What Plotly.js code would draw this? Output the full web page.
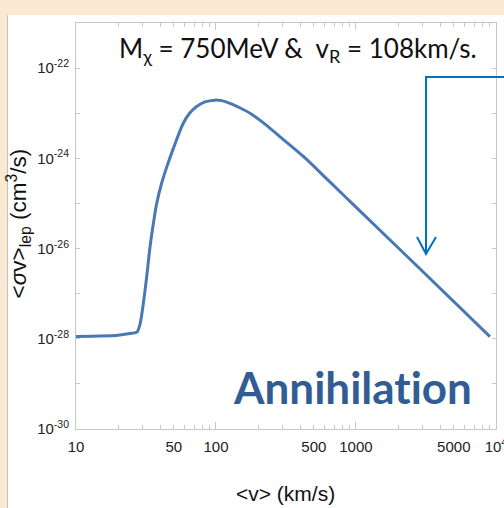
<!DOCTYPE html>
<html>
<head>
<meta charset="utf-8">
<script src="https://cdn.plot.ly/plotly-3.0.1.min.js"></script>
<style>html,body{margin:0;padding:0;background:#fff;}#chart{width:504px;height:508px;}</style>
</head>
<body>
<div id="chart"></div>
<script>
// velocity <v> in km/s
const velocity = [10, 15, 20, 25, 27.2, 28.6, 30.3, 32.0, 33.8, 35.7, 37.7, 40.9, 44.4, 49.6, 58.4, 65.2, 72.8, 83.4, 98, 110, 126, 148, 175, 224, 287, 421, 651, 1000, 3000, 9060];
// <sigma v>_lep in cm^3/s
const sigmaV = [1.12e-28, 1.15e-28, 1.20e-28, 1.32e-28, 1.40e-28, 2.04e-28, 6.2e-28, 2.4e-27, 1.1e-26, 3.6e-26, 1.0e-25, 2.8e-25, 6.3e-25, 1.66e-24, 6.0e-24, 1.02e-23, 1.41e-23, 1.78e-23, 1.95e-23, 1.9e-23, 1.66e-23, 1.32e-23, 1.0e-23, 5.75e-24, 3.0e-24, 1.1e-24, 3.0e-25, 8.3e-26, 3.1e-27, 1.12e-28];

const xTickVals = [10, 50, 100, 500, 1000, 5000, 10000];
const xTickText = ['10', '50', '100', '500', '1000', '5000', '10<sup>4</sup>'];
const xMinorVals = [20, 30, 40, 60, 70, 80, 90, 200, 300, 400, 600, 700, 800, 900, 2000, 3000, 4000, 6000, 7000, 8000, 9000];
const xDecadeVals = [10, 100, 1000, 10000];
const yTickVals = [1e-30, 1e-28, 1e-26, 1e-24, 1e-22];
const yTickText = ['10<sup>-30</sup>', '10<sup>-28</sup>', '10<sup>-26</sup>', '10<sup>-24</sup>', '10<sup>-22</sup>'];
const yMinorVals = [1e-29, 1e-27, 1e-25, 1e-23, 1e-21];

const tickFont = {family: '"Liberation Sans Narrow", "Liberation Sans", Arial, sans-serif', size: 15, color: '#222'};
const axisColor = '#c8c8c8';

const traces = [{
  x: velocity, y: sigmaV, type: 'scatter', mode: 'lines',
  line: {color: '#4a78b5', width: 3, shape: 'spline', smoothing: 0.8},
  hoverinfo: 'skip', showlegend: false
}, {
  x: [], y: [], xaxis: 'x2', type: 'scatter', showlegend: false
}];

const layout = {
  width: 504, height: 508,
  margin: {l: 76, r: 8, t: 23, b: 79},
  paper_bgcolor: '#ffffff', plot_bgcolor: '#ffffff',
  showlegend: false,
  xaxis: {
    type: 'log', range: [1, 4.0004], showgrid: false, zeroline: false,
    showline: true, linecolor: axisColor, linewidth: 1, mirror: 'ticks',
    ticks: 'inside', ticklen: 4, tickcolor: axisColor, tickwidth: 1,
    tickmode: 'array', tickvals: xTickVals, ticktext: xTickText,
    tickfont: tickFont, ticklabelstandoff: 4, ticklabeloverflow: 'allow',
    minor: {tickmode: 'array', tickvals: xMinorVals, ticks: 'inside', ticklen: 4, tickcolor: axisColor, showgrid: false}
  },
  xaxis2: {
    type: 'log', range: [1, 4.0004], overlaying: 'x', side: 'bottom', anchor: 'y',
    showgrid: false, zeroline: false, showline: false, mirror: 'ticks',
    ticks: 'inside', ticklen: 7, tickcolor: axisColor, tickwidth: 1,
    tickmode: 'array', tickvals: xDecadeVals, showticklabels: false
  },
  yaxis: {
    type: 'log', range: [-30, -21], showgrid: false, zeroline: false,
    showline: true, linecolor: axisColor, linewidth: 1, mirror: 'ticks',
    ticks: 'inside', ticklen: 4, tickcolor: axisColor, tickwidth: 1,
    tickmode: 'array', tickvals: yTickVals, ticktext: yTickText,
    tickfont: tickFont, ticklabelstandoff: 3,
    minor: {tickmode: 'array', tickvals: yMinorVals, ticks: 'inside', ticklen: 4, tickcolor: axisColor, showgrid: false}
  },
  shapes: [
    {type: 'rect', xref: 'paper', yref: 'paper', x0: -0.18095, x1: -0.16429, y0: -0.19458, y1: 1.05665, fillcolor: '#fbead3', line: {width: 0}, layer: 'below'},
    {type: 'rect', xref: 'paper', yref: 'paper', x0: -0.18095, x1: 1.01905, y0: 1.0197, y1: 1.05665, fillcolor: '#fbead3', line: {width: 0}, layer: 'below'},
    {type: 'line', xref: 'paper', yref: 'paper', x0: -0.16310, x1: -0.16310, y0: -0.19458, y1: 1.0197, line: {color: '#c9c2b8', width: 1}},
    {type: 'path', xref: 'paper', yref: 'paper', path: 'M1.01905,0.867 L0.83333,0.867 L0.83333,0.43103', line: {color: '#0070c0', width: 2}},
    {type: 'path', xref: 'paper', yref: 'paper', path: 'M0.8119,0.47291 L0.83333,0.43103 L0.85714,0.47291', line: {color: '#0070c0', width: 2}}
  ],
  annotations: [
    {xref: 'paper', yref: 'paper', x: 0.0976, y: 0.9335, xanchor: 'left', yanchor: 'middle', showarrow: false,
     text: 'M<sub>χ</sub> = 750MeV &\u00a0 v<sub>R</sub> = 108km/s.', font: {family: 'Lato, "Open Sans", sans-serif', size: 26, color: '#111'}},
    {xref: 'paper', yref: 'paper', x: 0.3690, y: 0.1034, xanchor: 'left', yanchor: 'middle', showarrow: false,
     text: '<b>Annihilat\u200Cion</b>', font: {family: 'Lato, "Open Sans", sans-serif', size: 44, color: '#325d94'}},
    {xref: 'paper', yref: 'paper', x: -0.1370, y: 0.5075, xanchor: 'center', yanchor: 'middle', showarrow: false, textangle: -90,
     text: '<<i>σ</i>v><sub>lep</sub> (cm<sup>3</sup>/s)', font: {family: '"Liberation Sans", Arial, sans-serif', size: 22.5, color: '#111'}},
    {xref: 'paper', yref: 'paper', x: 0.49762, y: -0.15764, xanchor: 'center', yanchor: 'middle', showarrow: false,
     text: '<v> (km/s)', font: {family: '"Liberation Sans Narrow", "Liberation Sans", Arial, sans-serif', size: 21, color: '#111'}}
  ]
};

Plotly.newPlot('chart', traces, layout, {displayModeBar: false, staticPlot: true});
</script>
</body>
</html>
